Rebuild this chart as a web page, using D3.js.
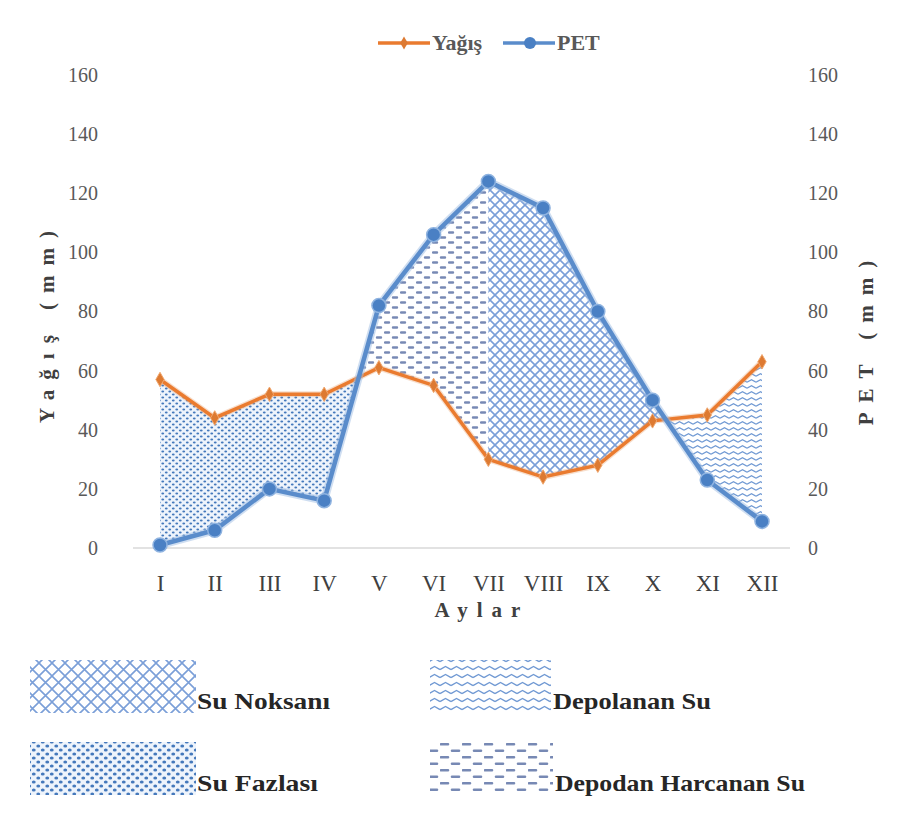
<!DOCTYPE html>
<html>
<head>
<meta charset="utf-8">
<script src="https://cdn.jsdelivr.net/npm/d3@7"></script>
<style>
  body { margin: 0; background: #fff; }
  svg text { font-family: "Liberation Serif", "DejaVu Serif", serif !important; }
</style>
</head>
<body>
<div id="container"></div>
<script>
// chart data
const months = ["I", "II", "III", "IV", "V", "VI", "VII", "VIII", "IX", "X", "XI", "XII"];
const yagis = [57, 44, 52, 52, 61, 55, 30, 24, 28, 43, 45, 63];
const pet = [1, 6, 20, 16, 82, 106, 124, 115, 80, 50, 23, 9];
const yTicks = [0, 20, 40, 60, 80, 100, 120, 140, 160];
const legendItems = ["Su Noksanı", "Depolanan Su", "Su Fazlası", "Depodan Harcanan Su"];

const width = 905;
const height = 814;

const svg = d3.select("#container")
    .append("svg")
    .attr("width", width)
    .attr("height", height);

const x = d3.scalePoint()
    .domain(months)
    .range([160, 762]);

const y = d3.scaleLinear()
    .domain([0, 160])
    .range([548, 75]);

const defs = svg.append("defs");

// fill patterns
function crossPattern(id, s) {
    const p = defs.append("pattern").attr("id", id)
        .attr("patternUnits", "userSpaceOnUse")
        .attr("width", s).attr("height", s);
    p.append("path")
        .attr("d", `M0,0L${s},${s}M${s},0L0,${s}`)
        .attr("stroke", "#7b9fd8").attr("stroke-width", 1.6).attr("fill", "none");
}
function dotPattern(id, w, h, r) {
    const p = defs.append("pattern").attr("id", id)
        .attr("patternUnits", "userSpaceOnUse")
        .attr("width", w).attr("height", h);
    p.append("rect").attr("width", w).attr("height", h).attr("fill", "#eef4fc");
    p.append("ellipse").attr("cx", w * 0.25).attr("cy", h * 0.25).attr("rx", r * 1.3).attr("ry", r).attr("fill", "#4478bb");
    p.append("ellipse").attr("cx", w * 0.75).attr("cy", h * 0.75).attr("rx", r * 1.3).attr("ry", r).attr("fill", "#4478bb");
}
function wavePattern(id, w, h) {
    const p = defs.append("pattern").attr("id", id)
        .attr("patternUnits", "userSpaceOnUse")
        .attr("width", w).attr("height", h);
    p.append("path")
        .attr("d", `M0,${h * 0.7}L${w / 2},${h * 0.3}L${w},${h * 0.7}`)
        .attr("stroke", "#7099d3").attr("stroke-width", 1.3).attr("fill", "none");
}
function dashPattern(id, w, h, sw) {
    const p = defs.append("pattern").attr("id", id)
        .attr("patternUnits", "userSpaceOnUse")
        .attr("width", w).attr("height", h);
    p.append("path")
        .attr("d", `M1,${h * 0.25}L${w / 2 - 3},${h * 0.25}M${w / 2 + 1},${h * 0.75}L${w - 3},${h * 0.75}`)
        .attr("stroke", "#7789b4").attr("stroke-width", sw).attr("stroke-linecap", "round");
}
crossPattern("pNoksan", 10);
dotPattern("pFazla", 7, 6, 1.1);
wavePattern("pDepolanan", 9, 6);
dashPattern("pHarcanan", 16, 10, 2.4);
crossPattern("lNoksan", 13);
dotPattern("lFazla", 9, 8, 1.5);
wavePattern("lDepolanan", 11, 8);
dashPattern("lHarcanan", 22, 13, 2.6);

// build the regions between the two curves
const pts = months.map((m, i) => ({ x: x(m), p: yagis[i], e: pet[i], i }));
const segments = [];
let cur = [pts[0]];
for (let i = 1; i < pts.length; i++) {
    const a = pts[i - 1], b = pts[i];
    const da = a.p - a.e, db = b.p - b.e;
    if (da * db < 0) {
        const t = da / (da - db);
        const c = { x: a.x + t * (b.x - a.x), p: a.p + t * (b.p - a.p), i: a.i + t };
        c.e = c.p;
        cur.push(c);
        segments.push(cur);
        cur = [c];
    }
    cur.push(b);
    // split at VII between the two deficit types
    if (months[i] === "VII") {
        segments.push(cur);
        cur = [b];
    }
}
segments.push(cur);

function patternFor(seg) {
    const surplus = d3.mean(seg, d => d.p - d.e) > 0;
    const early = d3.mean(seg, d => d.i) < 6;
    if (surplus) return early ? "pFazla" : "pDepolanan";
    return early ? "pHarcanan" : "pNoksan";
}

const area = d3.area()
    .x(d => d.x)
    .y0(d => y(Math.min(d.p, d.e)))
    .y1(d => y(Math.max(d.p, d.e)));

svg.append("g")
    .selectAll("path")
    .data(segments)
    .join("path")
    .attr("d", area)
    .attr("fill", d => `url(#${patternFor(d)})`);

// axis baseline
svg.append("line")
    .attr("x1", 133).attr("x2", 790)
    .attr("y1", y(0)).attr("y2", y(0))
    .attr("stroke", "#d9d9d9").attr("stroke-width", 1.5);

// left axis
const yAxisL = svg.append("g")
    .attr("transform", "translate(98,0)")
    .call(d3.axisLeft(y).tickValues(yTicks).tickSize(0).tickPadding(0));
yAxisL.select(".domain").remove();
yAxisL.selectAll("text").attr("font-size", 20).attr("fill", "#595959");

// right axis
const yAxisR = svg.append("g")
    .attr("transform", "translate(808,0)")
    .call(d3.axisRight(y).tickValues(yTicks).tickSize(0).tickPadding(0));
yAxisR.select(".domain").remove();
yAxisR.selectAll("text").attr("font-size", 20).attr("fill", "#595959");

// x axis
const xAxis = svg.append("g")
    .attr("transform", "translate(0,570)")
    .call(d3.axisBottom(x).tickSize(0).tickPadding(0));
xAxis.select(".domain").remove();
xAxis.selectAll("text").attr("font-size", 23).attr("fill", "#404040").attr("dy", "0.9em");

// axis titles
svg.append("text")
    .attr("x", 482).attr("y", 617)
    .attr("text-anchor", "middle")
    .attr("font-size", 21).attr("font-weight", "bold").attr("fill", "#404040")
    .attr("letter-spacing", "9px")
    .text("Aylar");

svg.append("text")
    .attr("transform", "translate(54,322) rotate(-90)")
    .attr("text-anchor", "middle")
    .attr("font-size", 21).attr("font-weight", "bold").attr("fill", "#404040")
    .attr("letter-spacing", "10px")
    .text("Yağış (mm)");

svg.append("text")
    .attr("transform", "translate(873,338) rotate(-90)")
    .attr("text-anchor", "middle")
    .attr("font-size", 21).attr("font-weight", "bold").attr("fill", "#404040")
    .attr("letter-spacing", "10px")
    .text("PET (mm)");

// lines
const line = d3.line().x((d, i) => x(months[i])).y(d => y(d));

svg.append("path")
    .datum(yagis)
    .attr("d", line)
    .attr("fill", "none")
    .attr("stroke", "#e9a06e").attr("stroke-width", 6).attr("opacity", 0.35);
svg.append("path")
    .datum(yagis)
    .attr("d", line)
    .attr("fill", "none")
    .attr("stroke", "#ea7b2f").attr("stroke-width", 3.5);
svg.append("g")
    .selectAll("path")
    .data(yagis)
    .join("path")
    .attr("d", d3.symbol(d3.symbolDiamond, 60))
    .attr("transform", (d, i) => `translate(${x(months[i])},${y(d)})`)
    .attr("fill", "#dd7a32").attr("stroke", "#f0a76e").attr("stroke-width", 1);

svg.append("path")
    .datum(pet)
    .attr("d", line)
    .attr("fill", "none")
    .attr("stroke", "#9fbde3").attr("stroke-width", 8).attr("opacity", 0.5);
svg.append("path")
    .datum(pet)
    .attr("d", line)
    .attr("fill", "none")
    .attr("stroke", "#5a8ccb").attr("stroke-width", 4.5);
svg.append("g")
    .selectAll("circle")
    .data(pet)
    .join("circle")
    .attr("cx", (d, i) => x(months[i]))
    .attr("cy", d => y(d))
    .attr("r", 7)
    .attr("fill", "#4a80c4").attr("stroke", "#8fb3e0").attr("stroke-width", 1.5);

// top legend
const lg = svg.append("g");
lg.append("line").attr("x1", 378).attr("x2", 430).attr("y1", 43).attr("y2", 43)
    .attr("stroke", "#ea7b2f").attr("stroke-width", 3.5);
lg.append("path").attr("d", d3.symbol(d3.symbolDiamond, 50))
    .attr("transform", "translate(404,43)").attr("fill", "#dd7a32");
lg.append("text").attr("x", 432).attr("y", 50)
    .attr("font-size", 22).attr("font-weight", "bold").attr("fill", "#595959")
    .text("Yağış");
lg.append("line").attr("x1", 503).attr("x2", 555).attr("y1", 43).attr("y2", 43)
    .attr("stroke", "#5a8ccb").attr("stroke-width", 3.5);
lg.append("circle").attr("cx", 530).attr("cy", 43).attr("r", 6).attr("fill", "#4a80c4");
lg.append("text").attr("x", 557).attr("y", 50)
    .attr("font-size", 22).attr("font-weight", "bold").attr("fill", "#595959")
    .text("PET");

// bottom legend
const boxes = [
    { name: legendItems[0], fill: "lNoksan", x: 30, y: 660, w: 166, tx: 197, tw: 133 },
    { name: legendItems[1], fill: "lDepolanan", x: 430, y: 660, w: 121, tx: 553, tw: 158 },
    { name: legendItems[2], fill: "lFazla", x: 30, y: 742, w: 166, tx: 197, tw: 121 },
    { name: legendItems[3], fill: "lHarcanan", x: 430, y: 742, w: 123, tx: 555, tw: 250 }
];
const bl = svg.append("g")
    .selectAll("g")
    .data(boxes)
    .join("g");
bl.append("rect")
    .attr("x", d => d.x).attr("y", d => d.y)
    .attr("width", d => d.w).attr("height", 53)
    .attr("fill", d => `url(#${d.fill})`);
bl.append("text")
    .attr("x", d => d.tx).attr("y", d => d.y + 49)
    .attr("font-size", 24).attr("font-weight", "bold").attr("fill", "#262626")
    .attr("textLength", d => d.tw).attr("lengthAdjust", "spacingAndGlyphs")
    .text(d => d.name);
</script>
</body>
</html>
